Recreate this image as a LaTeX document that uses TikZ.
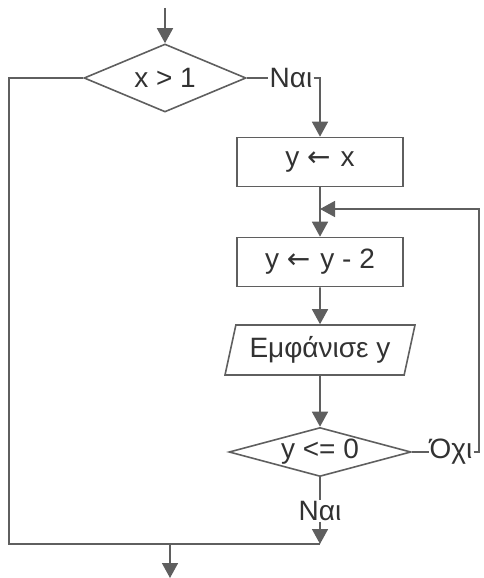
\documentclass[tikz,border=0pt]{standalone}
\usepackage{fontspec}
\setmainfont{Liberation Sans}
\newfontfamily\arrowfont{DejaVu Sans}
\usetikzlibrary{shapes.geometric, arrows.meta, positioning}
\definecolor{linecolor}{RGB}{95, 95, 95}
\definecolor{textcolor}{RGB}{50, 50, 50}
\newcommand{\getsarrow}{{\arrowfont ←}\hspace{10pt}}

\begin{document}
\begin{tikzpicture}[
    x=1pt, y=-1pt,
    font=\fontsize{28}{32}\selectfont, text=textcolor,
    process/.style={draw=linecolor, line width=1.6pt, minimum width=166pt, minimum height=49pt, inner sep=0pt},
    decision/.style={draw=linecolor, line width=1.6pt, diamond, inner sep=0pt},
    inout/.style={draw=linecolor, line width=1.6pt, trapezium, trapezium left angle=68, trapezium right angle=112, trapezium stretches body, minimum width=190pt, minimum height=50pt, inner sep=0pt},
    answer/.style={inner sep=1pt, fill=white},
    line/.style={draw=linecolor, line width=1.6pt},
    arrow/.style={line, -{Triangle[length=15pt, width=16pt]}}
]
\useasboundingbox (0,0) rectangle (483,578);

% Blocks
\node[decision, minimum width=162pt, minimum height=68pt, label=center:{x > 1}] (test1) at (165,78) {};
\node[process] (assign) at (320,162) {y \getsarrow x};
\node[process] (minus) at (320,262) {y \getsarrow y - 2};
\node[inout] (show) at (320,350) {Εμφάνισε y};
\node[decision, minimum width=182pt, minimum height=49pt, label=center:{y <= 0}] (test2) at (320,452) {};

% Answers
\node[answer] (yes1) at (291,78) {Ναι};
\node[answer] (no2) at (451,452) {Όχι};
\node[answer] (yes2) at (320,511) {Ναι};

% Helper points
\coordinate (start) at (165,8);
\coordinate (loopin) at (320,209);
\coordinate (loopright) at (479,452);
\coordinate (lowleft) at (9,544);
\coordinate (join) at (320,544);
\coordinate (split) at (170,544);
\coordinate (exit) at (170,578);

% Connectors
\draw[arrow] (start) -- (test1.north);
\draw[line] (test1.east) -- (yes1.west);
\draw[arrow] (yes1.east) -| (assign.north);
\draw[line] (assign.south) -- (loopin);
\draw[arrow] (loopin) -- (minus.north);
\draw[arrow] (minus.south) -- (show.north);
\draw[arrow] (show.south) -- (test2.north);
\draw[line] (test2.east) -- (no2.west);
\draw[arrow] (no2.east) -- (loopright) |- (loopin);
\draw[line] (test2.south) -- (yes2.north);
\draw[arrow] (yes2.south) -- (join);
\draw[line] (test1.west) -| (lowleft) -- (join);
\draw[arrow] (split) -- (exit);

\end{tikzpicture}
\end{document}
